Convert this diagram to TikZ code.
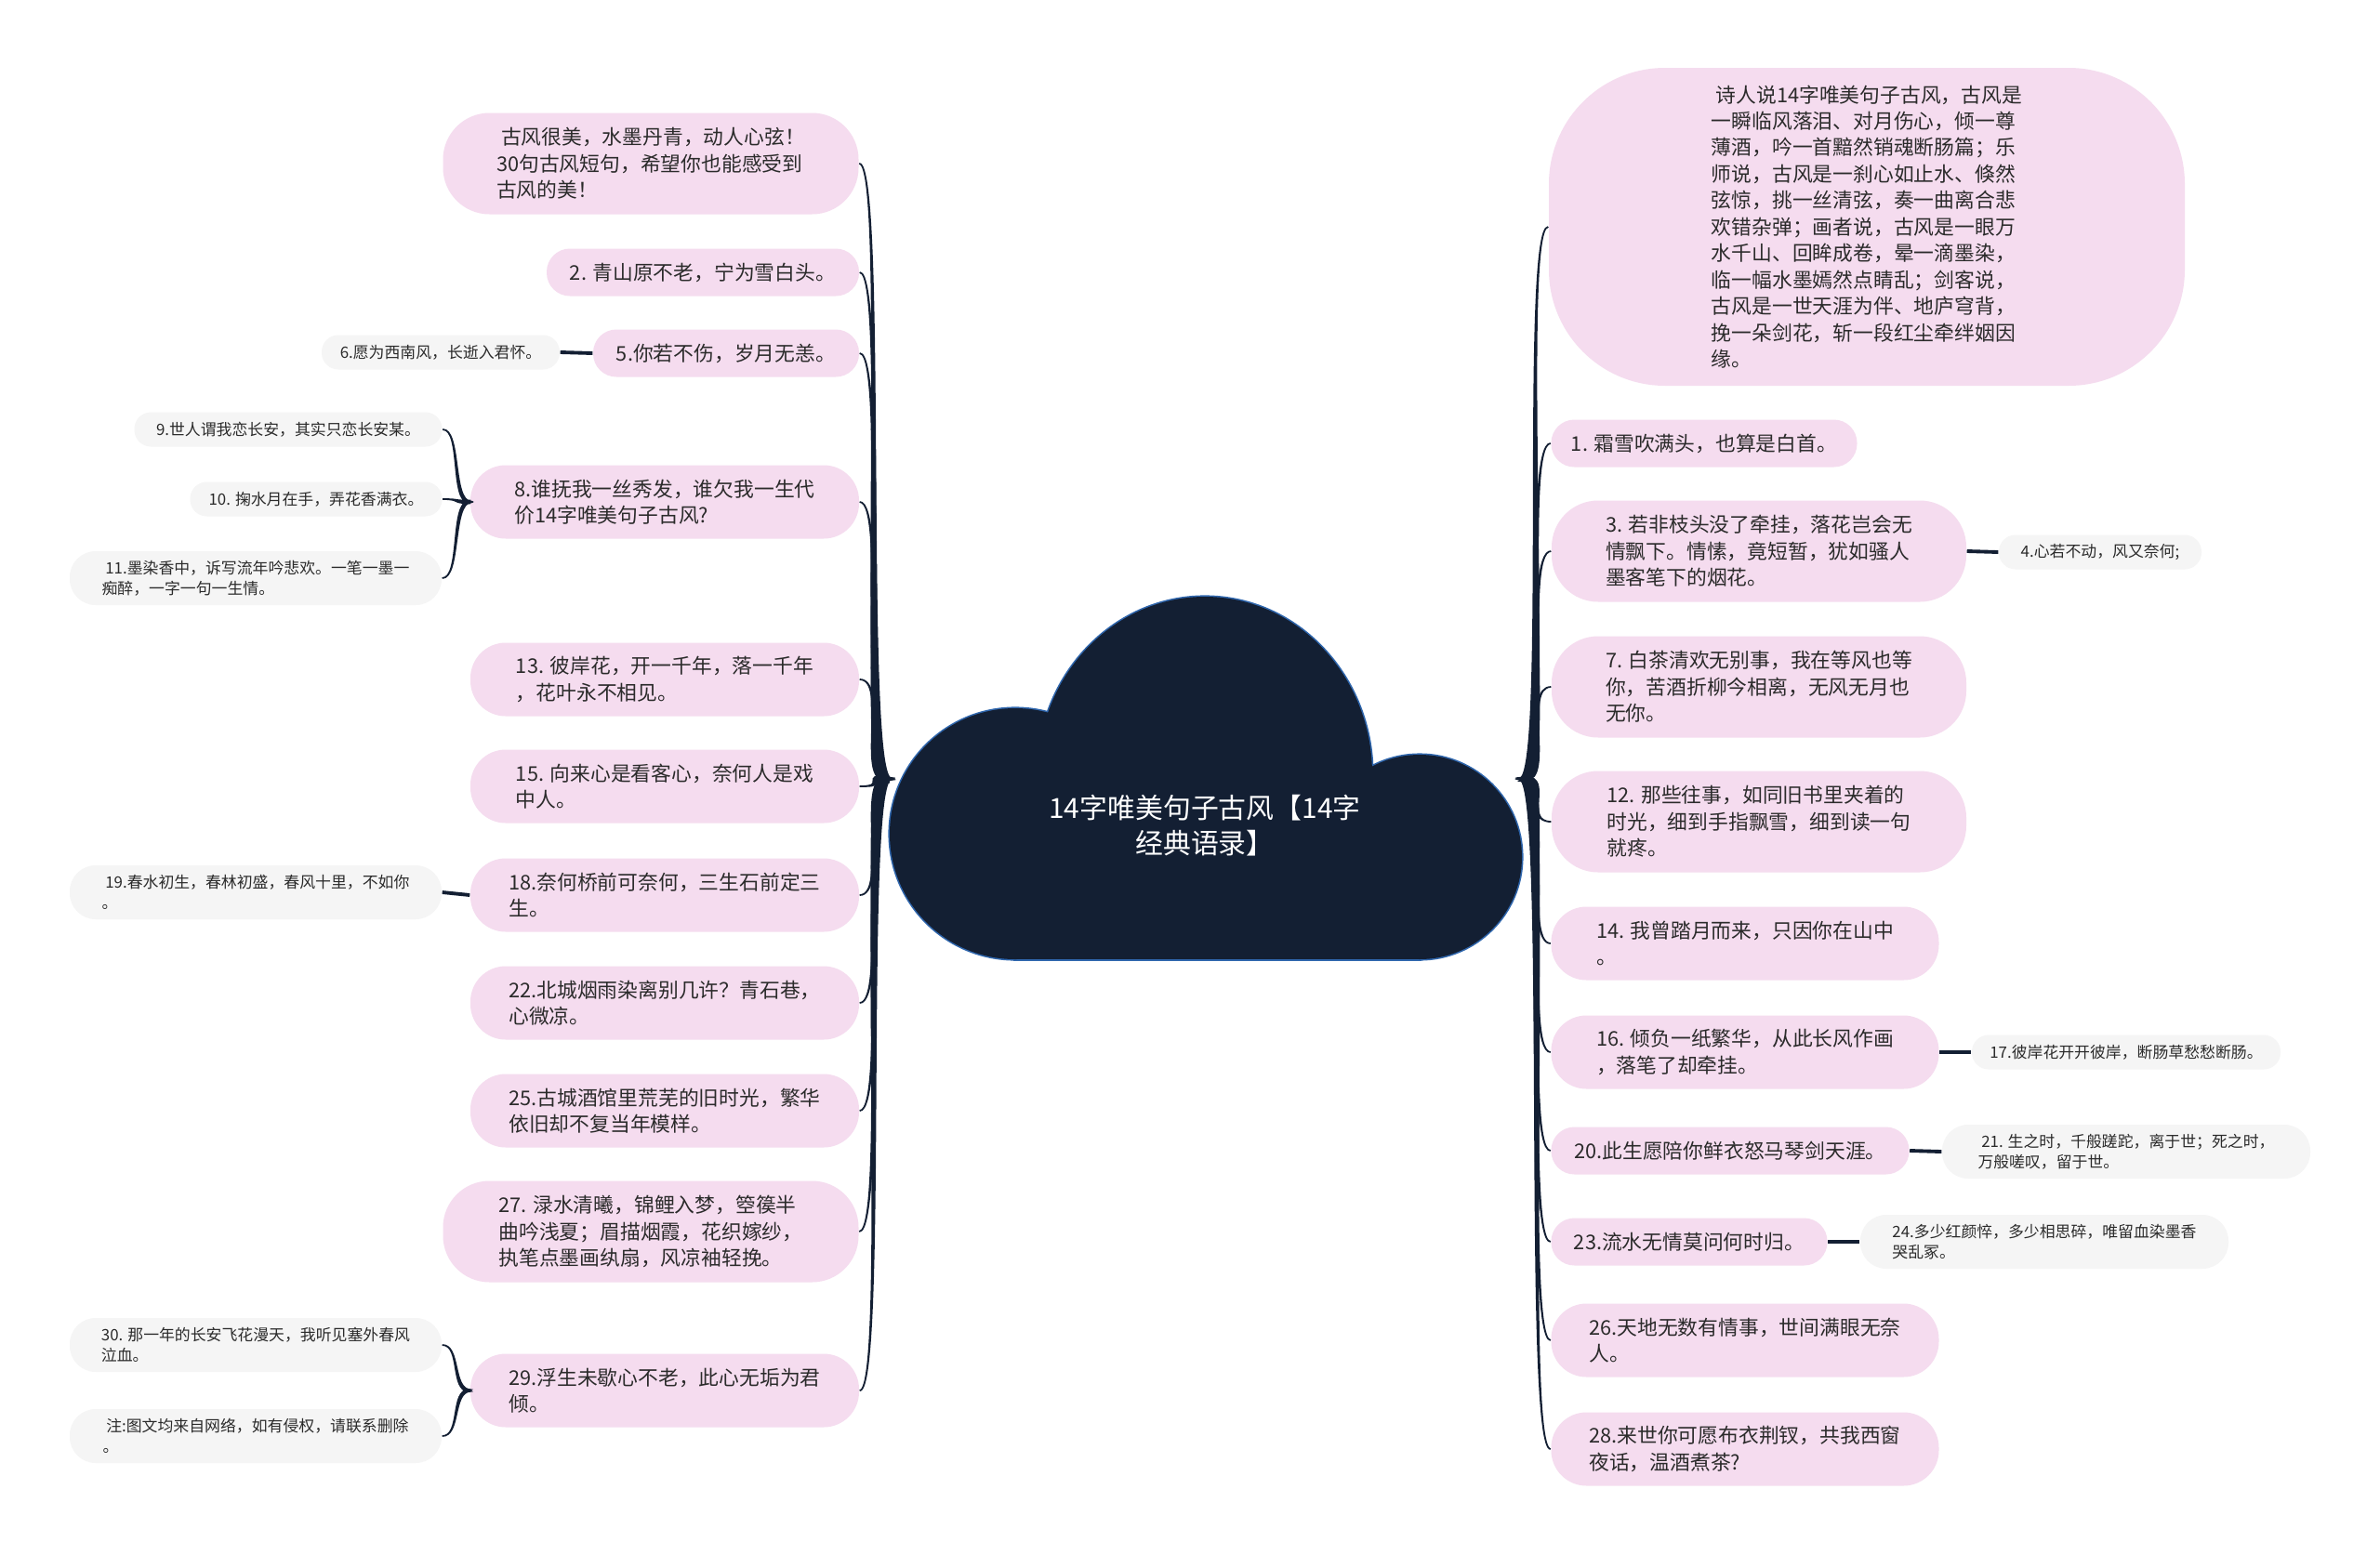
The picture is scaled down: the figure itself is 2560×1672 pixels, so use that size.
\documentclass[tikz,border=0pt]{standalone}
\usepackage{fontspec}
\newfontfamily\cjk{Noto Sans CJK SC}
\usepackage{xcolor}
\usetikzlibrary{calc}

\definecolor{petal}{HTML}{F5DCEF}
\definecolor{mist}{HTML}{F5F5F5}
\definecolor{navy}{HTML}{131F33}
\definecolor{rim}{HTML}{2F66AD}
\definecolor{ink}{HTML}{2B2B2B}

\tikzset{
  quote/.style={fill=petal, text=ink, align=left, inner xsep=2mm, inner ysep=0pt,
    font=\cjk\fontsize{6.2}{8.1}\selectfont},
  note/.style={fill=mist, text=ink, align=left, inner xsep=1.5mm, inner ysep=0pt,
    font=\cjk\fontsize{4.8}{6.4}\selectfont},
  oneline/.style={minimum height=5.1mm, rounded corners=2.5mm},
  twoline/.style={minimum height=7.9mm, rounded corners=3.8mm},
  threeline/.style={minimum height=10.9mm, rounded corners=5mm},
  noteone/.style={minimum height=3.7mm, rounded corners=1.8mm},
  notetwo/.style={minimum height=5.8mm, rounded corners=2.8mm},
  hub/.style={text=white, align=center, font=\cjk\fontsize{8.5}{11}\selectfont},
  twig/.style={draw=navy, line width=1.1pt},
}

% tapered connector: from, to, half width, handle
\newcommand{\bough}[4]{%
  \filldraw[navy, line width=0.5pt]
    ($(#1)!#3!90:(#2)$) .. controls +(#4,0) and +({-(#4)},0) .. (#2)
    .. controls +({-(#4)},0) and +(#4,0) .. ($(#1)!#3!-90:(#2)$) -- cycle;
}

\begin{document}
\begin{tikzpicture}[x=0.1mm, y=-0.1mm]

	\fill[white] (0,0) rectangle (2560,1672);
	\useasboundingbox (0,0) rectangle (2560,1672);

	% cloud
	\draw[rim, line width=0.9pt] (1296,833) ellipse [x radius=180, y radius=191];
	\draw[rim, line width=0.9pt] (1092,897) circle [radius=135];
	\draw[rim, line width=0.9pt] (1527,922) circle [radius=110];
	\draw[rim, line width=0.9pt] (1092,880) rectangle (1527,1032);
	\fill[navy] (1296,833) ellipse [x radius=180, y radius=191];
	\fill[navy] (1092,897) circle [radius=135];
	\fill[navy] (1527,922) circle [radius=110];
	\fill[navy] (1092,880) rectangle (1527,1032);

	\node[hub] (root) at (1296,888) {14字唯美句子古风【14字\\经典语录】};
	\coordinate (lroot) at (955,838);
	\coordinate (rroot) at (1638,838);

	% left side
	\node[quote, threeline, minimum width=44.7mm] (L0) at (700,176) {\ 古风很美，水墨丹青，动人心弦！\\30句古风短句，希望你也能感受到\\古风的美！};
	\node[quote, oneline, minimum width=33.6mm] (L2) at (756,293) {2. 青山原不老，宁为雪白头。};
	\node[quote, oneline, minimum width=28.6mm] (L5) at (781,380) {5.你若不伤，岁月无恙。};
	\node[quote, twoline, minimum width=41.8mm] (L8) at (715,540) {8.谁抚我一丝秀发，谁欠我一生代\\价14字唯美句子古风?};
	\node[quote, twoline, minimum width=41.8mm] (L13) at (715,731) {13. 彼岸花，开一千年，落一千年\\，花叶永不相见。};
	\node[quote, twoline, minimum width=41.8mm] (L15) at (715,846) {15. 向来心是看客心，奈何人是戏\\中人。};
	\node[quote, twoline, minimum width=41.8mm] (L18) at (715,963) {18.奈何桥前可奈何，三生石前定三\\生。};
	\node[quote, twoline, minimum width=41.8mm] (L22) at (715,1079) {22.北城烟雨染离别几许？青石巷，\\心微凉。};
	\node[quote, twoline, minimum width=41.8mm] (L25) at (715,1195) {25.古城酒馆里荒芜的旧时光，繁华\\依旧却不复当年模样。};
	\node[quote, threeline, minimum width=44.7mm] (L27) at (700,1325) {27. 渌水清曦，锦鲤入梦，箜篌半\\曲吟浅夏；眉描烟霞，花织嫁纱，\\执笔点墨画纨扇，风凉袖轻挽。};
	\node[quote, twoline, minimum width=41.8mm] (L29) at (715,1496) {29.浮生未歇心不老，此心无垢为君\\倾。};

	\node[note, noteone, minimum width=25.6mm] (G6) at (474,379) {6.愿为西南风，长逝入君怀。};
	\node[note, noteone, minimum width=33.1mm] (G9) at (310,462) {9.世人谓我恋长安，其实只恋长安某。};
	\node[note, noteone, minimum width=27.1mm] (G10) at (340,537) {10. 掬水月在手，弄花香满衣。};
	\node[note, notetwo, minimum width=40mm] (G11) at (275,622) {\ 11.墨染香中，诉写流年吟悲欢。一笔一墨一\\痴醉，一字一句一生情。};
	\node[note, notetwo, minimum width=40mm] (G19) at (275,960) {\ 19.春水初生，春林初盛，春风十里，不如你\\。};
	\node[note, notetwo, minimum width=40mm] (G30) at (275,1447) {30. 那一年的长安飞花漫天，我听见塞外春风\\泣血。};
	\node[note, notetwo, minimum width=40mm] (G31) at (275,1545) {\ 注:图文均来自网络，如有侵权，请联系删除\\。};

	% right side
	\node[quote, minimum width=68.4mm, minimum height=34.2mm, rounded corners=12.5mm] (R0) at (2008,244) {\ 诗人说14字唯美句子古风，古风是\\一瞬临风落泪、对月伤心，倾一尊\\薄酒，吟一首黯然销魂断肠篇；乐\\师说，古风是一刹心如止水、倏然\\弦惊，挑一丝清弦，奏一曲离合悲\\欢错杂弹；画者说，古风是一眼万\\水千山、回眸成卷，晕一滴墨染，\\临一幅水墨嫣然点睛乱；剑客说，\\古风是一世天涯为伴、地庐穹背，\\挽一朵剑花，斩一段红尘牵绊姻因\\缘。};
	\node[quote, oneline, minimum width=32.9mm] (R1) at (1833,477) {1. 霜雪吹满头，也算是白首。};
	\node[quote, threeline, minimum width=44.6mm] (R3) at (1892,593) {3. 若非枝头没了牵挂，落花岂会无\\情飘下。情愫，竟短暂，犹如骚人\\墨客笔下的烟花。};
	\node[quote, threeline, minimum width=44.6mm] (R7) at (1892,739) {7. 白茶清欢无别事，我在等风也等\\你，苦酒折柳今相离，无风无月也\\无你。};
	\node[quote, threeline, minimum width=44.6mm] (R12) at (1892,884) {12. 那些往事，如同旧书里夹着的\\时光，细到手指飘雪，细到读一句\\就疼。};
	\node[quote, twoline, minimum width=41.7mm] (R14) at (1877,1015) {14. 我曾踏月而来，只因你在山中\\。};
	\node[quote, twoline, minimum width=41.7mm] (R16) at (1877,1132) {16. 倾负一纸繁华，从此长风作画\\，落笔了却牵挂。};
	\node[quote, oneline, minimum width=38.5mm] (R20) at (1861,1238) {20.此生愿陪你鲜衣怒马琴剑天涯。};
	\node[quote, oneline, minimum width=29.7mm] (R23) at (1817,1336) {23.流水无情莫问何时归。};
	\node[quote, twoline, minimum width=41.7mm] (R26) at (1877,1442) {26.天地无数有情事，世间满眼无奈\\人。};
	\node[quote, twoline, minimum width=41.7mm] (R28) at (1877,1559) {28.来世你可愿布衣荆钗，共我西窗\\夜话，温酒煮茶?};

	\node[note, noteone, minimum width=21.8mm] (G4) at (2259,594) {4.心若不动，风又奈何;};
	\node[note, noteone, minimum width=33.2mm] (G17) at (2287,1132) {17.彼岸花开开彼岸，断肠草愁愁断肠。};
	\node[note, notetwo, minimum width=39.6mm] (G21) at (2287,1239) {\ 21. 生之时，千般蹉跎，离于世；死之时，\\万般嗟叹，留于世。};
	\node[note, notetwo, minimum width=39.6mm] (G24) at (2199,1336) {24.多少红颜悴，多少相思碎，唯留血染墨香\\哭乱冢。};

	% branches
	\bough{lroot}{L0.east}{1.1pt}{-30}
	\bough{lroot}{L2.east}{1.1pt}{-30}
	\bough{lroot}{L5.east}{1.1pt}{-30}
	\bough{lroot}{L8.east}{1.1pt}{-30}
	\bough{lroot}{L13.east}{1.1pt}{-30}
	\bough{lroot}{L15.east}{1.1pt}{-30}
	\bough{lroot}{L18.east}{1.1pt}{-30}
	\bough{lroot}{L22.east}{1.1pt}{-30}
	\bough{lroot}{L25.east}{1.1pt}{-30}
	\bough{lroot}{L27.east}{1.1pt}{-30}
	\bough{lroot}{L29.east}{1.1pt}{-30}

	\bough{rroot}{R0.west}{1.1pt}{30}
	\bough{rroot}{R1.west}{1.1pt}{30}
	\bough{rroot}{R3.west}{1.1pt}{30}
	\bough{rroot}{R7.west}{1.1pt}{30}
	\bough{rroot}{R12.west}{1.1pt}{30}
	\bough{rroot}{R14.west}{1.1pt}{30}
	\bough{rroot}{R16.west}{1.1pt}{30}
	\bough{rroot}{R20.west}{1.1pt}{30}
	\bough{rroot}{R23.west}{1.1pt}{30}
	\bough{rroot}{R26.west}{1.1pt}{30}
	\bough{rroot}{R28.west}{1.1pt}{30}

	\bough{L8.west}{G9.east}{0.4pt}{-20}
	\bough{L8.west}{G10.east}{0.4pt}{-20}
	\bough{L8.west}{G11.east}{0.4pt}{-20}
	\bough{L29.west}{G30.east}{0.4pt}{-20}
	\bough{L29.west}{G31.east}{0.4pt}{-20}

	\draw[twig] (L5.west) -- (G6.east);
	\draw[twig] (L18.west) -- (G19.east);
	\draw[twig] (R3.east) -- (G4.west);
	\draw[twig] (R16.east) -- (G17.west);
	\draw[twig] (R20.east) -- (G21.west);
	\draw[twig] (R23.east) -- (G24.west);
\end{tikzpicture}
\end{document}
